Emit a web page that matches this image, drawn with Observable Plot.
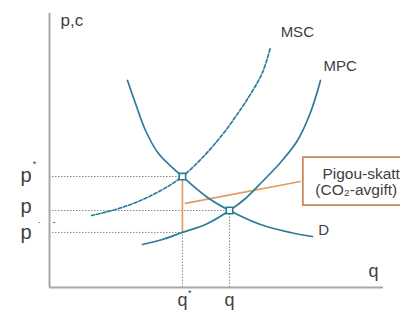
<!DOCTYPE html>
<html><head><meta charset="utf-8">
<script src="https://cdn.jsdelivr.net/npm/d3@7"></script>
<script src="https://cdn.jsdelivr.net/npm/@observablehq/plot@0.6"></script>
<style>body{margin:0;background:#fff;}</style>
</head><body><div id="chart"></div>
<script>
// Demand curve D
const dQ = [2.335, 2.575, 2.874, 3.263, 3.98, 4.731, 5.39, 6.317, 7.216, 7.874];
const dP = [7.555, 6.715, 5.730, 4.891, 4.05, 3.285, 2.81, 2.299, 2.007, 1.861];
// Marginal private cost MPC
const mpcQ = [2.784, 3.383, 3.98, 4.671, 5.39, 5.868, 6.377, 6.916, 7.425, 7.814, 8.114];
const mpcP = [1.569, 1.752, 2.01, 2.299, 2.81, 3.248, 3.869, 4.562, 5.365, 6.387, 7.555];
// Marginal social cost MSC (dashed)
const mscQ = [1.257, 1.976, 2.725, 3.383, 3.98, 4.611, 5.180, 5.659, 6.048, 6.377, 6.617];
const mscP = [2.628, 2.847, 3.175, 3.577, 4.05, 4.781, 5.584, 6.387, 7.117, 7.847, 8.759];
// Equilibria
const qStar = 3.98, pStar = 4.05;
const qMkt = 5.39, pMkt = 2.81;
const pLow = 2.01;
// Tax leader line and box
const leaderQ = [4.07, 7.51];
const leaderP = [3.07, 3.87];
const boxQ = [7.60, 11.5];
const boxP = [2.99, 4.74];
// Labels
const curveLabels = [
  {q: 6.92, p: 9.30, t: "MSC"},
  {q: 8.20, p: 8.09, t: "MPC"},
  {q: 8.05, p: 2.08, t: "D"}
];
const axisLabels = [
  {q: 0.33, p: 9.76, t: "p,c", s: 17},
  {q: 9.55, p: 0.61, t: "q", s: 18}
];
const pTickLabels = [
  {p: 4.07, t: "p"},
  {p: 2.95, t: "p"},
  {p: 2.0, t: "p"}
];
const qTickLabels = [
  {q: qStar, t: "q"},
  {q: qMkt, t: "q"}
];
const supLabels = [
  {q: -0.50, p: 4.50, t: "*"},
  {q: -0.36, p: 2.37, t: "·"},
  {q: 0.09, p: 2.37, t: "-"},
  {q: 4.15, p: -0.22, t: "*"}
];
const boxText = [
  {q: 8.17, p: 4.15, t: "Pigou-skatt"},
  {q: 7.96, p: 3.57, t: "(CO₂-avgift)"}
];

const teal = "#2b7c9b";
const orange = "#e19b5c";
const gray = "#a8a8a8";
const txt = "#404040";
const font = "Liberation Sans, Arial, sans-serif";

const pts = (qs, ps) => qs.map((q, i) => ({q, p: ps[i]}));

const chart = Plot.plot({
  width: 400,
  height: 313,
  marginLeft: 49,
  marginRight: 17,
  marginTop: 13,
  marginBottom: 26,
  x: {domain: [0, 10], axis: null},
  y: {domain: [0, 10], axis: null},
  style: {fontFamily: font, background: "#fff"},
  marks: [
    // dotted guides
    Plot.ruleY([pStar], {x1: 0, x2: qStar, stroke: "#8a8a8a", strokeDasharray: "1.5,1.5", strokeWidth: 1}),
    Plot.ruleY([pMkt], {x1: 0, x2: qMkt, stroke: "#8a8a8a", strokeDasharray: "1.5,1.5", strokeWidth: 1}),
    Plot.ruleY([pLow], {x1: 0, x2: qStar, stroke: "#8a8a8a", strokeDasharray: "1.5,1.5", strokeWidth: 1}),
    Plot.ruleX([qStar], {y1: 0, y2: pLow, stroke: "#8a8a8a", strokeDasharray: "1.5,1.5", strokeWidth: 1}),
    Plot.ruleX([qMkt], {y1: 0, y2: pMkt, stroke: "#8a8a8a", strokeDasharray: "1.5,1.5", strokeWidth: 1}),
    // axes
    Plot.ruleX([0], {y1: 0, y2: 10, stroke: gray, strokeWidth: 2}),
    Plot.ruleY([0], {x1: 0, x2: 10, stroke: gray, strokeWidth: 2}),
    // tax
    Plot.ruleX([qStar], {y1: pLow, y2: pStar, stroke: orange, strokeWidth: 1.6}),
    Plot.line(pts(leaderQ, leaderP), {x: "q", y: "p", stroke: orange, strokeWidth: 1.6}),
    Plot.rect([{x1: boxQ[0], x2: boxQ[1], y1: boxP[0], y2: boxP[1]}], {x1: "x1", x2: "x2", y1: "y1", y2: "y2", fill: "#fff", stroke: "#c9885a", strokeWidth: 1.8}),
    Plot.text(boxText, {x: "q", y: "p", text: "t", textAnchor: "start", fontSize: 15.5, fill: txt}),
    // curves
    Plot.line(pts(dQ, dP), {x: "q", y: "p", curve: "catmull-rom", stroke: teal, strokeWidth: 1.7}),
    Plot.line(pts(mpcQ, mpcP), {x: "q", y: "p", curve: "catmull-rom", stroke: teal, strokeWidth: 1.7}),
    Plot.line(pts(mscQ, mscP), {x: "q", y: "p", curve: "catmull-rom", stroke: teal, strokeWidth: 1.7, strokeDasharray: "3.5,2"}),
    // equilibrium markers
    Plot.dot([{q: qStar, p: pStar}, {q: qMkt, p: pMkt}], {x: "q", y: "p", symbol: "square", r: 3.6, fill: "#fff", stroke: teal, strokeWidth: 1.6}),
    // labels
    Plot.text(curveLabels, {x: "q", y: "p", text: "t", textAnchor: "start", fontSize: 15, fill: txt}),
    Plot.text(axisLabels, {x: "q", y: "p", text: "t", textAnchor: "start", fontSize: d => d.s, fill: txt}),
    Plot.text(pTickLabels, {x: -0.87, y: "p", text: "t", textAnchor: "start", fontSize: 20, fill: txt}),
    Plot.text(qTickLabels, {x: "q", y: -0.48, text: "t", textAnchor: "middle", fontSize: 18, fill: txt}),
    Plot.text(supLabels, {x: "q", y: "p", text: "t", textAnchor: "start", fontSize: 9, fill: txt})
  ]
});
document.getElementById("chart").appendChild(chart);
</script>
</body></html>
